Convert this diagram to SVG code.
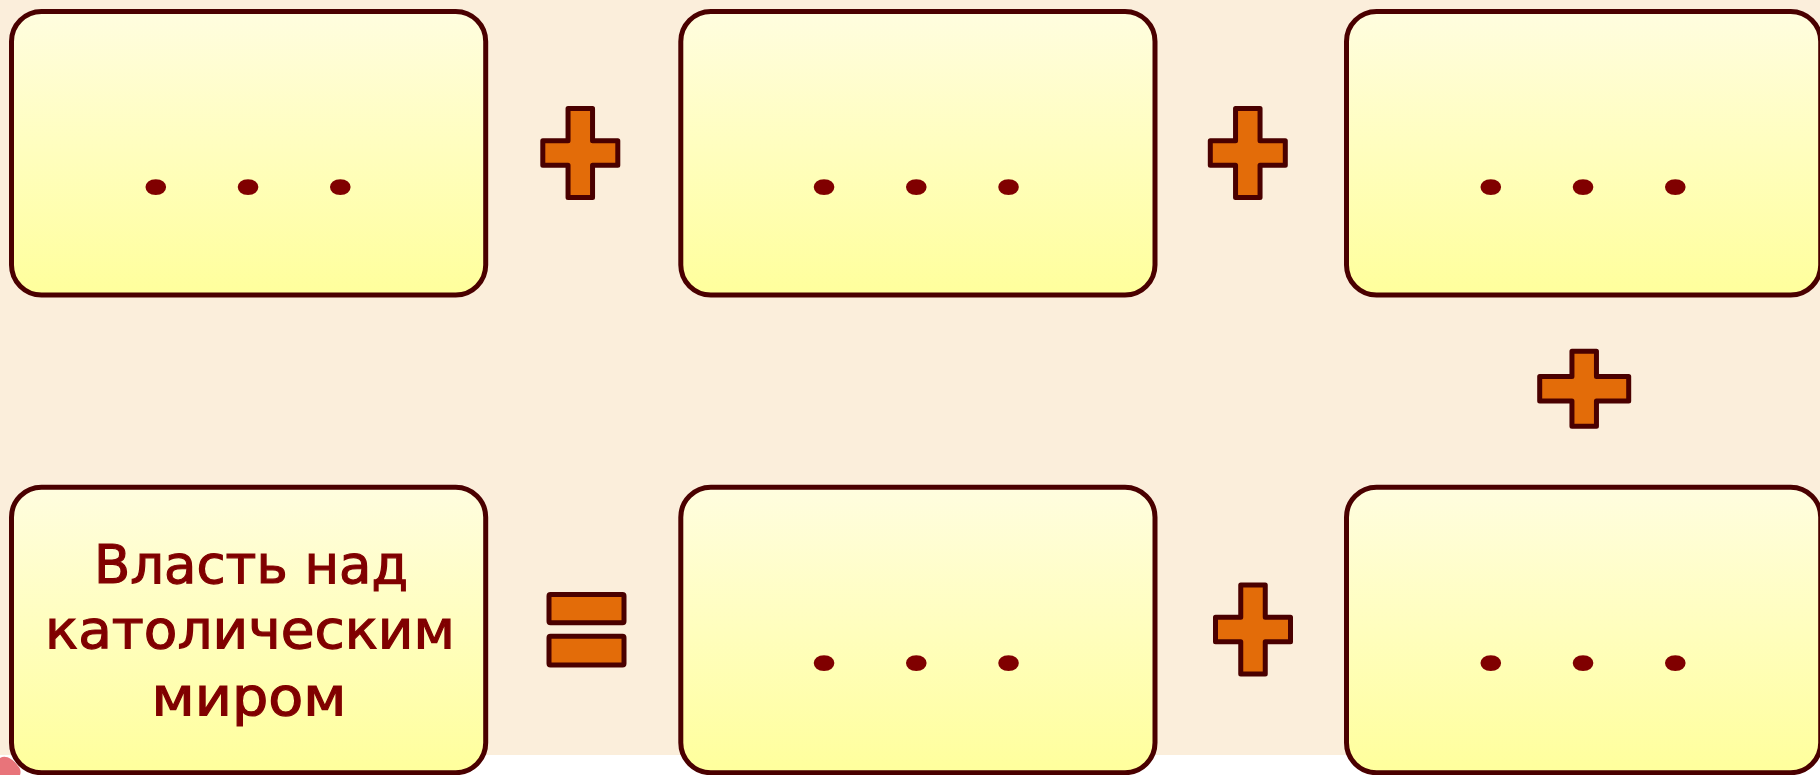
<svg xmlns="http://www.w3.org/2000/svg" width="1820" height="775" viewBox="0 0 1820 775">
  <defs>
    <linearGradient id="boxFill" x1="0" y1="0" x2="0" y2="1">
      <stop offset="0" stop-color="#fffddf"/>
      <stop offset="1" stop-color="#ffff9c"/>
    </linearGradient>
    <path id="plus" d="M-12.25,-44.5 H12.25 V-12.25 H37.5 V12.25 H12.25 V44.5 H-12.25 V12.25 H-37.5 V-12.25 H-12.25 Z"/>
  </defs>
  <style>
    .box { fill: url(#boxFill); stroke: #4a0000; stroke-width: 5px; }
    .op { fill: #e36c09; stroke: #4a0000; stroke-width: 5px; stroke-linejoin: round; }
    .dots { font-family: Roboto, "Liberation Sans", sans-serif; font-weight: 700; font-size: 108px; fill: #800000; text-anchor: middle; }
    .label { font-family: "DejaVu Sans", "Liberation Sans", sans-serif; font-size: 53px; fill: #800000; stroke: #800000; stroke-width: 1.2px; text-anchor: middle; }
  </style>

  <rect x="0" y="0" width="1820" height="755" fill="#fbeedb"/>
  <rect x="0" y="755" width="1820" height="20" fill="#ffffff"/>
  <path d="M0,758 C6,754 14,760 18,766 C22,770 20,775 20,775 H0 Z" fill="#e8747a"/>

  <g id="box1">
    <rect class="box" x="11.5" y="11.5" width="474.2" height="283.5" rx="30" stroke-width="5"/>
    <text class="dots" transform="translate(248.6,193.5) scale(1.2,1)" x="-76.9 -38.5 0 38.5 76.9" y="0">. . .</text>
  </g>
  <g id="box2">
    <rect class="box" x="680.8" y="11.5" width="474.2" height="283.5" rx="30" stroke-width="5"/>
    <text class="dots" transform="translate(916.7,193.5) scale(1.2,1)" x="-76.9 -38.5 0 38.5 76.9" y="0">. . .</text>
  </g>
  <g id="box3">
    <rect class="box" x="1346.5" y="11.5" width="474.2" height="283.5" rx="30" stroke-width="5"/>
    <text class="dots" transform="translate(1583.6,193.5) scale(1.2,1)" x="-76.9 -38.5 0 38.5 76.9" y="0">. . .</text>
  </g>
  <g id="box4">
    <rect class="box" x="11.5" y="487.2" width="474.2" height="285.5" rx="30" stroke-width="5"/>
    <text class="label" x="251" y="583.3" font-size="53" textLength="314" lengthAdjust="spacingAndGlyphs">Власть над</text>
    <text class="label" x="250" y="648.3" font-size="53" textLength="410" lengthAdjust="spacingAndGlyphs">католическим</text>
    <text class="label" x="249" y="715" font-size="53" textLength="195" lengthAdjust="spacingAndGlyphs">миром</text>
  </g>
  <g id="box5">
    <rect class="box" x="680.8" y="487.2" width="474.2" height="285.5" rx="30" stroke-width="5"/>
    <text class="dots" transform="translate(916.7,670) scale(1.2,1)" x="-76.9 -38.5 0 38.5 76.9" y="0">. . .</text>
  </g>
  <g id="box6">
    <rect class="box" x="1346.5" y="487.2" width="474.2" height="285.5" rx="30" stroke-width="5"/>
    <text class="dots" transform="translate(1583.6,670) scale(1.2,1)" x="-76.9 -38.5 0 38.5 76.9" y="0">. . .</text>
  </g>

  <g id="operators">
    <use id="plus1" class="op" href="#plus" transform="translate(580.3,153)"/>
    <use id="plus2" class="op" href="#plus" transform="translate(1247.8,153)"/>
    <use id="plus3" class="op" href="#plus" transform="translate(1584.2,388.7) rotate(90)"/>
    <use id="plus4" class="op" href="#plus" transform="translate(1253,629.5)"/>
    <g id="equals">
      <rect class="op" x="549" y="594.5" width="75" height="28.3" rx="1.5"/>
      <rect class="op" x="549" y="636.3" width="75" height="28.7" rx="1.5"/>
    </g>
  </g>
</svg>
